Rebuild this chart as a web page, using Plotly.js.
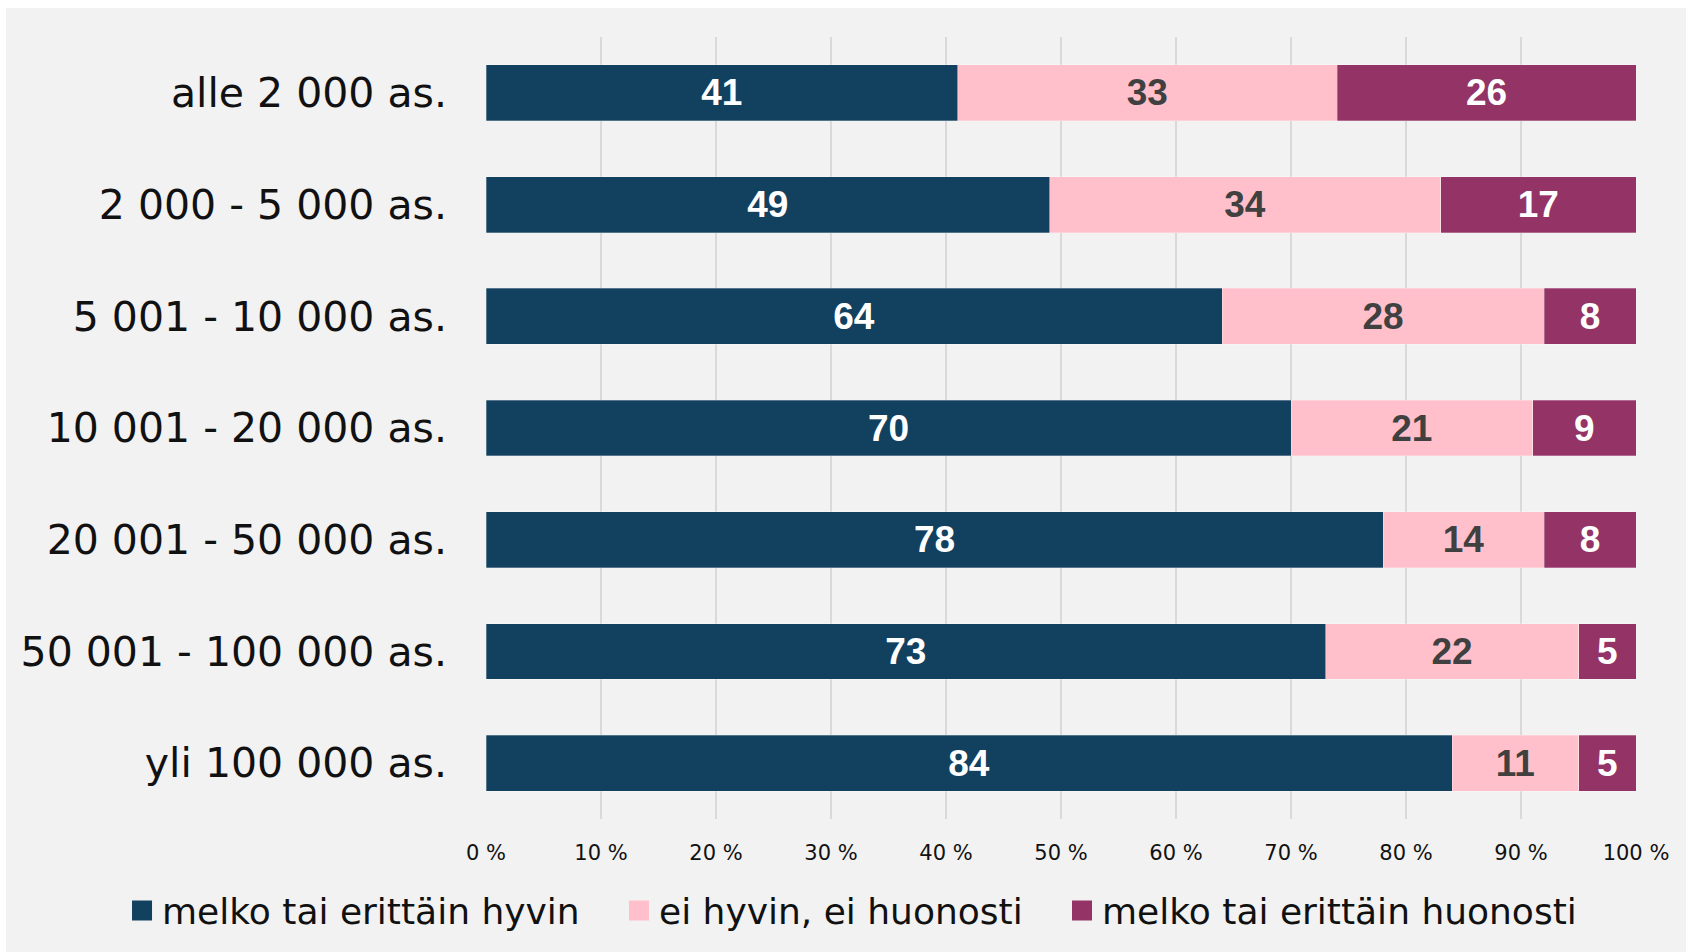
<!DOCTYPE html>
<html>
<head>
<meta charset="utf-8">
<script src="https://cdn.plot.ly/plotly-3.0.1.min.js"></script>
<style>
  html, body { margin: 0; padding: 0; background: #ffffff; }
  #chart { position: absolute; left: 6px; top: 8px; width: 1680px; height: 944px; }
</style>
</head>
<body>
<div id="chart"></div>
<script>
const categories = [
  "alle 2 000 as.",
  "2 000 - 5 000 as.",
  "5 001 - 10 000 as.",
  "10 001 - 20 000 as.",
  "20 001 - 50 000 as.",
  "50 001 - 100 000 as.",
  "yli 100 000 as."
];
const seriesNames = ["melko tai erittäin hyvin", "ei hyvin, ei huonosti", "melko tai erittäin huonosti"];
const hyvin    = [41, 49, 64, 70, 78, 73, 84];
const neutraali = [33, 34, 28, 21, 14, 22, 11];
const huonosti = [26, 17, 8, 9, 8, 5, 5];
const tickValues = [0, 10, 20, 30, 40, 50, 60, 70, 80, 90, 100];
const tickLabels = ["0 %", "10 %", "20 %", "30 %", "40 %", "50 %", "60 %", "70 %", "80 %", "90 %", "100 %"];

const colors = ["#12405f", "#ffc0cc", "#933366"];
const textColors = ["#ffffff", "#404040", "#ffffff"];
const seriesValues = [hyvin, neutraali, huonosti];
const pad = "\u00a0\u00a0\u00a0";

const traces = seriesValues.map((vals, i) => ({
  type: "bar",
  orientation: "h",
  name: seriesNames[i] + (i < 2 ? pad : ""),
  y: categories,
  x: vals,
  text: vals.map(String),
  texttemplate: "%{text}",
  textposition: "inside",
  insidetextanchor: "middle",
  textangle: 0,
  constraintext: "none",
  textfont: { family: "Liberation Sans, Arial, sans-serif", size: 37, color: textColors[i], weight: 700 },
  marker: { color: colors[i], line: { color: "rgba(255,255,255,0.35)", width: 0.8 } },
  hoverinfo: "skip"
}));

const layout = {
  width: 1680,
  height: 944,
  paper_bgcolor: "#f2f2f2",
  plot_bgcolor: "#f2f2f2",
  barmode: "stack",
  bargap: 0.5,
  margin: { l: 480, r: 50, t: 29, b: 127, pad: 0 },
  font: { family: "'DejaVu Sans', sans-serif", color: "#111111" },
  xaxis: {
    range: [0, 100],
    tickvals: tickValues,
    ticktext: tickLabels,
    showgrid: true,
    gridcolor: "#d9d9d9",
    gridwidth: 1.5,
    zeroline: false,
    showline: false,
    ticks: "outside",
    ticklen: 15,
    tickcolor: "rgba(0,0,0,0)",
    tickfont: { size: 21, color: "#111111" },
    fixedrange: true
  },
  yaxis: {
    autorange: "reversed",
    showgrid: false,
    zeroline: false,
    showline: false,
    ticks: "",
    ticklabelstandoff: 38,
    tickfont: { size: 41, color: "#111111" },
    fixedrange: true
  },
  showlegend: true,
  legend: {
    orientation: "h",
    x: -0.3165,
    xanchor: "left",
    y: -0.117,
    yanchor: "middle",
    font: { size: 36, color: "#111111" },
    traceorder: "normal",
    bgcolor: "rgba(0,0,0,0)",
    borderwidth: 0,
    itemclick: false,
    itemdoubleclick: false
  }
};

Plotly.newPlot("chart", traces, layout, { displayModeBar: false, staticPlot: true }).then(gd => {
  gd.querySelectorAll(".legendpoints path").forEach(p => {
    p.setAttribute("d", "M10,10H-10V-10H10Z");
    p.style.strokeWidth = "0px";
  });
});
</script>
</body>
</html>
